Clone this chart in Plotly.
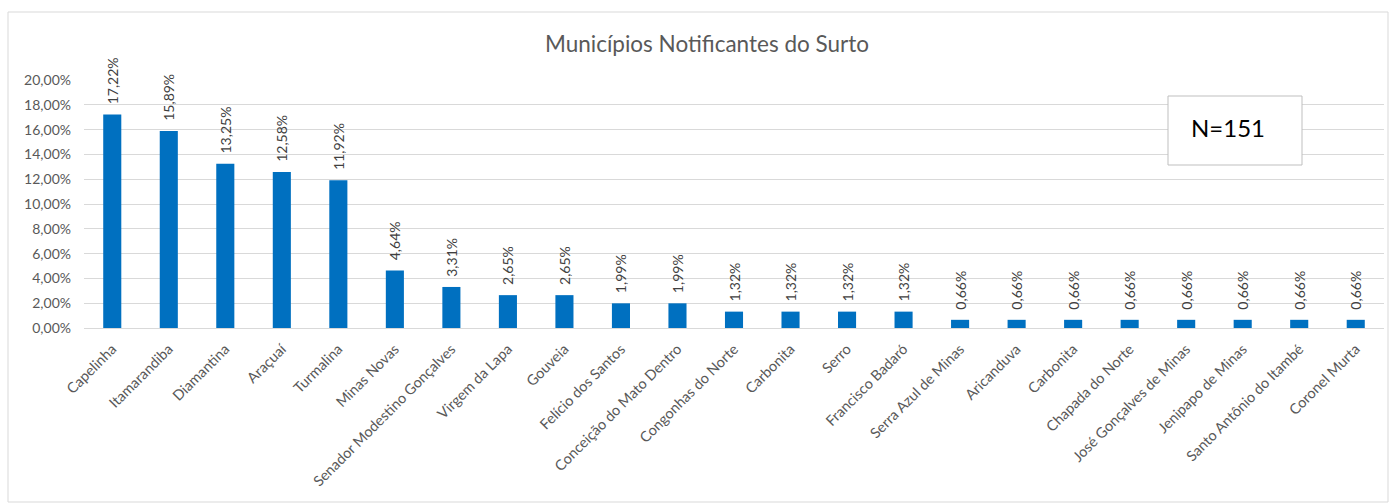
import plotly.graph_objects as go

municipios = ["Capelinha", "Itamarandiba", "Diamantina", "Araçuaí", "Turmalina", "Minas Novas",
              "Senador Modestino Gonçalves", "Virgem da Lapa", "Gouveia", "Felício dos Santos",
              "Conceição do Mato Dentro", "Congonhas do Norte", "Carbonita", "Serro",
              "Francisco Badaró", "Serra Azul de Minas", "Aricanduva", "Carbonita",
              "Chapada do Norte", "José Gonçalves de Minas", "Jenipapo de Minas",
              "Santo Antônio do Itambé", "Coronel Murta"]
percentuais = [0.1722, 0.1589, 0.1325, 0.1258, 0.1192, 0.0464, 0.0331, 0.0265, 0.0265, 0.0199,
               0.0199, 0.0132, 0.0132, 0.0132, 0.0132, 0.0066, 0.0066, 0.0066, 0.0066, 0.0066,
               0.0066, 0.0066, 0.0066]
titulo = "Municípios Notificantes do Surto"
nota = "N=151"

W, H = 1393, 503
L, R, T, B = 84, 9, 80, 175
pw, ph = W - L - R, H - T - B

def px(x):
    return (x - L) / pw

def py(y):
    return (H - B - y) / ph

idx = list(range(len(municipios)))
font = "Lato, 'Open Sans', sans-serif"

fig = go.Figure(go.Bar(
    x=idx, y=percentuais,
    marker=dict(color="#0070C0", line=dict(width=0)),
    texttemplate="\u00a0\u00a0%{y:.2%}", textposition="outside", textangle=-90,
    constraintext="none",
    textfont=dict(family=font, size=14, color="#404040"),
    cliponaxis=False,
))

fig.update_layout(
    width=W, height=H,
    margin=dict(l=L, r=R, t=T, b=B),
    paper_bgcolor="white", plot_bgcolor="white",
    separators=",.",
    bargap=0.68,
    showlegend=False,
    title=dict(text=titulo, x=707 / W, xanchor="center", y=(H - 44) / H, yanchor="middle",
               font=dict(family=font, size=22.5, color="#595959")),
    font=dict(family=font, color="#595959"),
    xaxis=dict(tickmode="array", tickvals=idx, ticktext=municipios, tickangle=-45,
               range=[-0.5, len(municipios) - 0.5], showgrid=False, showline=True,
               linecolor="#d9d9d9", linewidth=1, ticks="", ticklabelstandoff=6,
               tickfont=dict(family=font, size=14.5, color="#595959")),
    yaxis=dict(range=[0, 0.2], dtick=0.02, tickformat=".2%", showgrid=True,
               gridcolor="#d9d9d9", gridwidth=1, zeroline=False, ticks="",
               ticklabelstandoff=12,
               tickfont=dict(family=font, size=14, color="#595959")),
    shapes=[
        dict(type="rect", xref="paper", yref="paper", x0=px(8), x1=px(1388), y0=py(502), y1=py(12),
             line=dict(color="#d9d9d9", width=1), fillcolor="rgba(0,0,0,0)", layer="below"),
        dict(type="rect", xref="paper", yref="paper", x0=px(1168), x1=px(1302), y0=py(165), y1=py(96),
             line=dict(color="#bfbfbf", width=1), fillcolor="white", layer="above"),
    ],
    annotations=[
        dict(text=nota, xref="paper", yref="paper", x=px(1228), y=py(127), showarrow=False,
             xanchor="center", yanchor="middle", font=dict(family=font, size=24, color="#000000")),
    ],
)

fig.write_html("out.html")
